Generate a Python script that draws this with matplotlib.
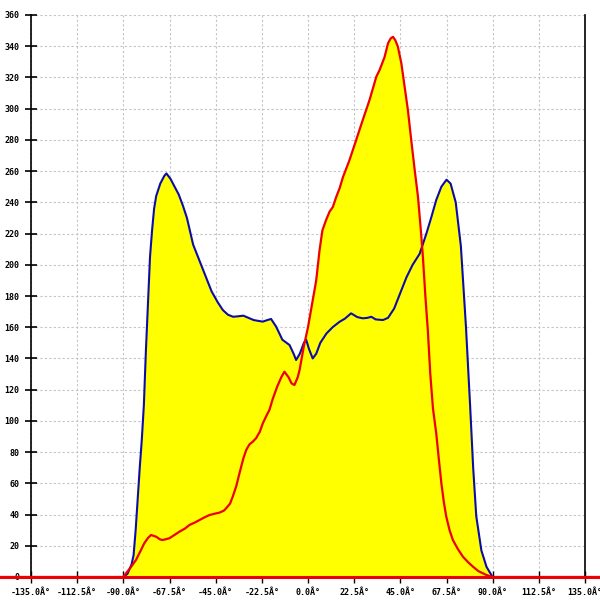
import matplotlib
matplotlib.use("Agg")
import matplotlib.pyplot as plt

# blue series (angle in degrees, value)
blue_deg = [-90, -88, -86, -85, -84, -83, -82, -81, -80, -79, -78, -77, -76, -75,
            -74, -72, -70, -69, -67, -65, -63, -61, -59, -56, -53, -50, -47, -44,
            -41.5, -39, -36.5, -34, -31.5, -29, -26.5, -24, -22, -20, -18, -15.5,
            -12.5, -9, -7, -5.8, -4, -2, -0.9, 0.5, 2.3, 4, 6, 9, 12, 15.4, 18, 21,
            24, 26.7, 29, 30.8, 33, 36.5, 39, 42, 45, 48, 51, 54.4, 57.7, 60, 62.5,
            65, 67.5, 69.5, 72, 74.5, 77, 79, 80.5, 82, 84.5, 87, 89.5, 90]
blue_val = [0, 2, 8, 14, 30, 50, 70, 88, 110, 145, 175, 205, 222, 236,
            244, 252, 257, 258.5, 255, 250, 245, 238, 230, 213, 203, 193, 183, 176,
            171, 168, 166.7, 167, 167.4, 166, 164.6, 164, 163.6, 164.5, 165.3, 160.3,
            152, 148.6, 143, 139, 143, 150, 152, 146, 140, 143, 150, 156, 160, 163.5, 165.5, 168.9,
            166.5, 165.7, 166, 166.7, 165, 164.6, 166, 172, 182, 192, 200, 207, 220, 230, 241.5,
            250, 254.5, 252, 240, 212, 160, 110, 70, 39, 17, 6.5, 1, 0]

# red series
red_deg = [-151, -90, -89.5, -86.5, -83.8, -81.5, -79.8, -78, -76.5, -74, -72, -70.8,
           -67.6, -65, -62.7, -60, -57.8, -55, -52.9, -50, -48, -45, -43.2, -41, -39.9,
           -38, -36.7, -35, -33.4, -31.5, -30.1, -28.5, -26.9, -25.3, -23.5, -22, -20,
           -18.8, -17.2, -15, -13, -11.5, -9.5, -8, -6.6, -5, -4.1, -2, 0, 2, 4, 5.6, 7,
           8.9, 10.5, 12.1, 13.8, 15.4, 17, 20.2, 23.5, 26.7, 30, 33.3, 34.9, 37.3, 39,
           40.3, 41.4, 42.5, 43.8, 45.5, 47.1, 48.7, 50.3, 52, 53.6, 55, 56, 57.2, 58.4,
           59.6, 60.9, 62.5, 63.8, 65, 66.2, 67.4, 69, 70.6, 73, 75.5, 78, 80.4, 83, 86.9,
           90, 143]
red_val = [0, 0, 1, 6, 11, 17, 21.6, 25, 26.9, 25.8, 24, 23.7,
           24.8, 27, 29, 31, 33.3, 35, 36.5, 38.5, 39.7, 40.7, 41.2, 42.5, 44,
           47, 51.4, 58, 66.4, 76, 81.4, 85, 86.7, 88.9, 93, 98.5, 104,
           107, 114, 122, 128, 131.5, 128, 124, 123, 128, 132.6, 148, 160, 175, 190, 209, 222,
           229, 234, 237, 243.6, 249, 256, 267, 280, 292.8, 305.6, 320.5, 324.8, 333, 341.9,
           345, 346, 344, 339.7, 329, 314, 299, 280, 260.7, 243.6, 222, 205, 180, 158,
           130, 108, 92, 75, 60, 48, 38.6, 30, 23.7, 18, 13, 9.5, 6.6, 3.8, 1.3,
           0, 0]

x_ticks = [-135 + 22.5 * i for i in range(13)]
x_labels = [f"{t:.1f}Â°" for t in x_ticks]
y_ticks = list(range(0, 361, 20))

fig = plt.figure(figsize=(6, 6), dpi=100)
ax = fig.add_axes([31 / 600, 1 - 577 / 600, 554 / 600, 562 / 600])

ax.fill_between(blue_deg, 0, blue_val, color="#ffff00", lw=0, zorder=1)
ax.fill_between(red_deg, 0, red_val, color="#ffff00", lw=0, zorder=1)
ax.plot(blue_deg, blue_val, color="#0c0ca8", lw=1.5, zorder=3)
ax.plot(red_deg, red_val, color="#ee0000", lw=1.6, zorder=4, clip_on=False)
# thicker red baseline across the whole width
ax.plot([-151, 143], [0, 0], color="#ee0000", lw=2.2, zorder=4, clip_on=False)

ax.set_xlim(-135, 135)
ax.set_ylim(0, 360)
ax.set_xticks(x_ticks)
ax.set_xticklabels(x_labels)
ax.set_yticks(y_ticks)

ax.grid(True, color="#c4c4c4", linestyle=(0, (2, 2)), linewidth=0.8, zorder=0)
ax.set_axisbelow(True)

for side in ["top", "bottom"]:
    ax.spines[side].set_visible(False)
for side in ["left", "right"]:
    ax.spines[side].set_color("black")
    ax.spines[side].set_linewidth(1.2)

mono = "DejaVu Sans Mono"
ax.tick_params(axis="y", direction="inout", length=8, width=1.2, pad=4.5, labelsize=6)
ax.tick_params(axis="x", direction="inout", length=8, width=1, pad=4, labelsize=6)
for lab in ax.get_xticklabels() + ax.get_yticklabels():
    lab.set_family(mono)
    lab.set_fontweight("bold")

fig.savefig("out.png", dpi=100)
